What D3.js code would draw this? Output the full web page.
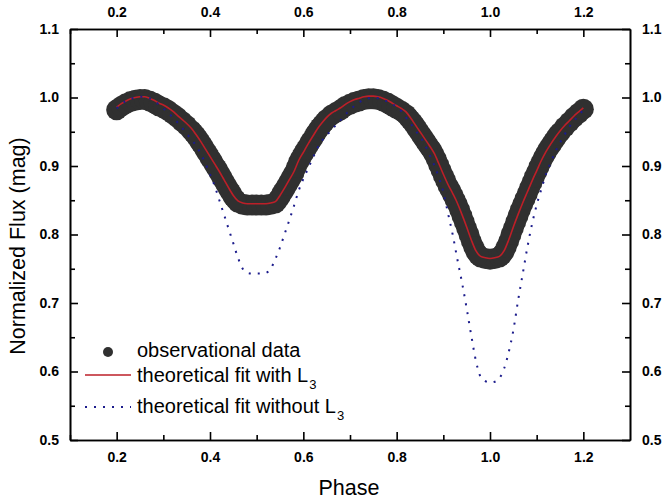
<!DOCTYPE html>
<html lang="en">

<head>
    <meta charset="utf-8">
    <title>Light curve fit</title>
    <script src="https://d3js.org/d3.v7.min.js"></script>
    <style type="text/css">
        body { margin: 0; background: #fff; }
        text { font-family: Arial, "Liberation Sans", sans-serif; }
        .tick-label { font-size: 14px; font-weight: bold; }
    </style>
</head>

<body>
    <script type="text/javascript">

        // Width and height
        var w = 663;
        var h = 503;
        var margin = { left: 70, right: 33, top: 29, bottom: 63 };

        // phase grid (shared by observations and models)
        var phase = [0.20, 0.21, 0.22, 0.23, 0.24, 0.25, 0.26, 0.27, 0.28, 0.29,
            0.30, 0.31, 0.32, 0.33, 0.34, 0.35, 0.36, 0.37, 0.38, 0.39,
            0.40, 0.41, 0.42, 0.43, 0.44, 0.45, 0.46, 0.47, 0.48, 0.49,
            0.50, 0.51, 0.52, 0.53, 0.54, 0.55, 0.56, 0.57, 0.58, 0.59,
            0.60, 0.61, 0.62, 0.63, 0.64, 0.65, 0.66, 0.67, 0.68, 0.69,
            0.70, 0.71, 0.72, 0.73, 0.74, 0.75, 0.76, 0.77, 0.78, 0.79,
            0.80, 0.81, 0.82, 0.83, 0.84, 0.85, 0.86, 0.87, 0.88, 0.89,
            0.90, 0.91, 0.92, 0.93, 0.94, 0.95, 0.96, 0.97, 0.98, 0.99,
            1.00, 1.01, 1.02, 1.03, 1.04, 1.05, 1.06, 1.07, 1.08, 1.09,
            1.10, 1.11, 1.12, 1.13, 1.14, 1.15, 1.16, 1.17, 1.18, 1.19, 1.20];

        // observational data
        var obsFlux = [0.982, 0.987, 0.991, 0.994, 0.996, 0.997, 0.997, 0.995, 0.992, 0.988,
            0.985, 0.981, 0.976, 0.971, 0.965, 0.959, 0.952, 0.944, 0.934, 0.923,
            0.912, 0.901, 0.890, 0.878, 0.866, 0.855, 0.847, 0.844, 0.843, 0.843,
            0.843, 0.843, 0.843, 0.844, 0.846, 0.855, 0.866, 0.878, 0.890, 0.906,
            0.918, 0.929, 0.940, 0.951, 0.960, 0.968, 0.974, 0.978, 0.982, 0.987,
            0.990, 0.993, 0.995, 0.997, 0.998, 0.998, 0.997, 0.995, 0.992, 0.988,
            0.984, 0.980, 0.975, 0.967, 0.958, 0.948, 0.938, 0.928, 0.917, 0.902,
            0.886, 0.871, 0.858, 0.844, 0.827, 0.809, 0.790, 0.775, 0.767, 0.765,
            0.764, 0.765, 0.767, 0.775, 0.790, 0.809, 0.827, 0.844, 0.860, 0.876,
            0.891, 0.906, 0.919, 0.930, 0.940, 0.949, 0.957, 0.964, 0.971, 0.977, 0.983];

        // extra observations in between, on the eclipse branches
        var obsPhaseB = [0.365, 0.375, 0.385, 0.395, 0.405, 0.415, 0.425, 0.435, 0.445, 0.455,
            0.545, 0.555, 0.565, 0.575, 0.585, 0.595, 0.605, 0.615, 0.625, 0.635, 0.645,
            0.825, 0.835, 0.845, 0.855, 0.865, 0.875, 0.885, 0.895, 0.905, 0.915, 0.925,
            0.935, 0.945, 0.955, 0.965, 0.975,
            1.025, 1.035, 1.045, 1.055, 1.065, 1.075, 1.085, 1.095, 1.105, 1.115, 1.125,
            1.135, 1.145];
        var obsFluxB = [0.948, 0.939, 0.929, 0.918, 0.907, 0.896, 0.884, 0.872, 0.861, 0.851,
            0.850, 0.861, 0.872, 0.884, 0.898, 0.912, 0.924, 0.935, 0.946, 0.956, 0.964,
            0.971, 0.963, 0.953, 0.943, 0.933, 0.923, 0.910, 0.894, 0.879, 0.865, 0.851,
            0.836, 0.818, 0.800, 0.782, 0.770,
            0.770, 0.782, 0.800, 0.818, 0.836, 0.852, 0.868, 0.884, 0.899, 0.913, 0.925,
            0.935, 0.945];

        // theoretical fit with L3
        var fitL3 = [0.986, 0.991, 0.995, 0.998, 1.000, 1.001, 1.001, 0.999, 0.996, 0.992,
            0.989, 0.985, 0.980, 0.974, 0.968, 0.962, 0.955, 0.946, 0.936, 0.925,
            0.914, 0.903, 0.892, 0.880, 0.868, 0.857, 0.849, 0.846, 0.845, 0.845,
            0.845, 0.845, 0.845, 0.846, 0.848, 0.857, 0.868, 0.880, 0.892, 0.908,
            0.920, 0.932, 0.943, 0.954, 0.963, 0.971, 0.977, 0.981, 0.985, 0.990,
            0.994, 0.997, 0.999, 1.001, 1.002, 1.002, 1.001, 0.999, 0.996, 0.992,
            0.988, 0.984, 0.979, 0.970, 0.960, 0.950, 0.940, 0.930, 0.919, 0.904,
            0.888, 0.873, 0.860, 0.846, 0.829, 0.811, 0.792, 0.776, 0.768, 0.766,
            0.765, 0.766, 0.768, 0.776, 0.792, 0.811, 0.829, 0.846, 0.862, 0.878,
            0.893, 0.908, 0.921, 0.932, 0.942, 0.951, 0.959, 0.966, 0.973, 0.979, 0.985];

        // theoretical fit without L3
        var fitNoL3 = [0.984, 0.990, 0.995, 0.998, 1.000, 1.001, 1.001, 0.999, 0.995, 0.990,
            0.984, 0.978, 0.971, 0.964, 0.956, 0.947, 0.939, 0.930, 0.918, 0.904,
            0.888, 0.871, 0.850, 0.829, 0.808, 0.787, 0.766, 0.750, 0.744, 0.743,
            0.743, 0.743, 0.744, 0.750, 0.764, 0.781, 0.801, 0.821, 0.842, 0.864,
            0.881, 0.896, 0.911, 0.926, 0.937, 0.945, 0.952, 0.960, 0.967, 0.975,
            0.982, 0.988, 0.993, 0.997, 0.999, 1.000, 0.999, 0.997, 0.994, 0.990,
            0.987, 0.980, 0.971, 0.962, 0.952, 0.943, 0.932, 0.917, 0.902, 0.884,
            0.862, 0.831, 0.800, 0.764, 0.730, 0.692, 0.652, 0.615, 0.592, 0.586,
            0.584, 0.585, 0.590, 0.604, 0.628, 0.660, 0.703, 0.742, 0.781, 0.815,
            0.843, 0.866, 0.888, 0.905, 0.921, 0.934, 0.946, 0.957, 0.966, 0.974, 0.982];

        // tick labels
        var xTicks = [0.2, 0.4, 0.6, 0.8, 1.0, 1.2];
        var yTicks = [0.5, 0.6, 0.7, 0.8, 0.9, 1.0, 1.1];
        var xMinor = [0.1, 0.3, 0.5, 0.7, 0.9, 1.1];
        var yMinor = [0.55, 0.65, 0.75, 0.85, 0.95, 1.05];

        var legendLabels = ["observational data", "theoretical fit with L", "theoretical fit without L"];

        var svg = d3.select("body")
            .append("svg")
            .attr("width", w)
            .attr("height", h);

        var x = d3.scaleLinear()
            .domain([0.1, 1.3])
            .range([margin.left, w - margin.right]);

        var y = d3.scaleLinear()
            .domain([0.5, 1.1])
            .range([h - margin.bottom, margin.top]);

        var rows = phase.map(function (p, i) {
            return { p: p, obs: obsFlux[i], l3: fitL3[i], nol3: fitNoL3[i] };
        });

        var obsAll = rows.map(function (d) { return [d.p, d.obs]; })
            .concat(obsPhaseB.map(function (p, i) { return [p, obsFluxB[i]]; }));

        // observations
        svg.append("g")
            .selectAll("circle")
            .data(obsAll)
            .enter()
            .append("circle")
            .attr("cx", function (d) { return x(d[0]); })
            .attr("cy", function (d) { return y(d[1]); })
            .attr("r", 10.5)
            .attr("fill", "#303030");

        // fit with L3
        var lineL3 = d3.line()
            .x(function (d) { return x(d.p); })
            .y(function (d) { return y(d.l3); })
            .curve(d3.curveMonotoneX);

        svg.append("path")
            .datum(rows)
            .attr("d", lineL3)
            .attr("fill", "none")
            .attr("stroke", "#bd1f28")
            .attr("stroke-width", 1.6);

        // fit without L3
        var lineNoL3 = d3.line()
            .x(function (d) { return x(d.p); })
            .y(function (d) { return y(d.nol3); })
            .curve(d3.curveMonotoneX);

        svg.append("path")
            .datum(rows)
            .attr("d", lineNoL3)
            .attr("fill", "none")
            .attr("stroke", "#1c1c8c")
            .attr("stroke-width", 2)
            .attr("stroke-dasharray", "2,7");

        // axes, ticks point inward on all four sides
        var x0 = margin.left, x1 = w - margin.right;
        var y0 = h - margin.bottom, y1 = margin.top;

        function addAxis(axis, tx, ty) {
            var g = svg.append("g")
                .attr("transform", "translate(" + tx + "," + ty + ")")
                .call(axis);
            g.selectAll("path, line").attr("stroke", "#000").attr("stroke-width", 1.6);
            g.selectAll("text").attr("class", "tick-label").attr("fill", "#000");
            return g;
        }

        var fmt = d3.format(".1f");

        addAxis(d3.axisBottom(x).tickValues(xTicks).tickFormat(fmt).tickSizeInner(-8).tickSizeOuter(0).tickPadding(12), 0, y0);
        addAxis(d3.axisTop(x).tickValues(xTicks).tickFormat(fmt).tickSizeInner(-8).tickSizeOuter(0).tickPadding(12), 0, y1);
        addAxis(d3.axisLeft(y).tickValues(yTicks).tickFormat(fmt).tickSizeInner(-8).tickSizeOuter(0).tickPadding(11), x0, 0);
        addAxis(d3.axisRight(y).tickValues(yTicks).tickFormat(fmt).tickSizeInner(-8).tickSizeOuter(0).tickPadding(12), x1, 0);

        // minor ticks
        addAxis(d3.axisBottom(x).tickValues(xMinor).tickFormat("").tickSizeInner(-5).tickSizeOuter(0), 0, y0);
        addAxis(d3.axisTop(x).tickValues(xMinor).tickFormat("").tickSizeInner(-5).tickSizeOuter(0), 0, y1);
        addAxis(d3.axisLeft(y).tickValues(yMinor).tickFormat("").tickSizeInner(-5).tickSizeOuter(0), x0, 0);
        addAxis(d3.axisRight(y).tickValues(yMinor).tickFormat("").tickSizeInner(-5).tickSizeOuter(0), x1, 0);

        // axis titles
        svg.append("text")
            .attr("x", 349)
            .attr("y", 495)
            .attr("text-anchor", "middle")
            .attr("font-size", "21.5px")
            .text("Phase");

        svg.append("text")
            .attr("transform", "translate(25,246) rotate(-90)")
            .attr("text-anchor", "middle")
            .attr("font-size", "21.5px")
            .text("Normalized Flux (mag)");

        // legend
        var lg = svg.append("g").attr("font-size", "20px");

        lg.append("circle")
            .attr("cx", 108)
            .attr("cy", 352)
            .attr("r", 5)
            .attr("fill", "#303030");

        lg.append("line")
            .attr("x1", 85).attr("x2", 131)
            .attr("y1", 375).attr("y2", 375)
            .attr("stroke", "#bd1f28")
            .attr("stroke-width", 1.6);

        lg.append("line")
            .attr("x1", 85).attr("x2", 131)
            .attr("y1", 407).attr("y2", 407)
            .attr("stroke", "#1c1c8c")
            .attr("stroke-width", 2)
            .attr("stroke-dasharray", "2,7");

        var baselines = [357, 382, 413];
        legendLabels.forEach(function (t, i) {
            var tx = lg.append("text")
                .attr("x", 137)
                .attr("y", baselines[i])
                .text(t);
            if (i > 0) {
                tx.append("tspan")
                    .attr("font-size", "13px")
                    .attr("dx", 1)
                    .attr("dy", 7)
                    .text("3");
            }
        });
    </script>
</body>

</html>
